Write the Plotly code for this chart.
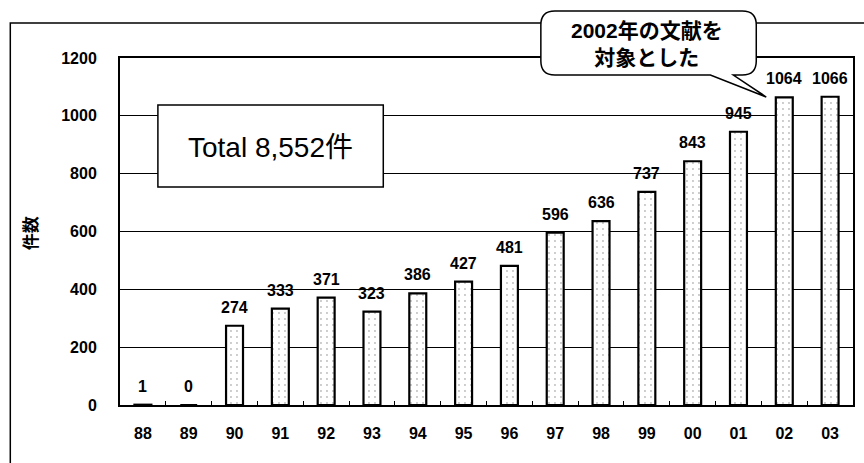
import plotly.graph_objects as go

years = ["88", "89", "90", "91", "92", "93", "94", "95", "96", "97", "98", "99", "00", "01", "02", "03"]
counts = [1, 0, 274, 333, 371, 323, 386, 427, 481, 596, 636, 737, 843, 945, 1064, 1066]
y_ticks = [0, 200, 400, 600, 800, 1000, 1200]
y_title = "件数"
total_text = "Total 8,552件"
callout_text = "2002年の文献を<br>対象とした"

W, H = 864, 463
L, R, T, B = 120, 9, 58, 58
PW, PH = W - L - R, H - T - B

def px(x):
    return (x - L) / PW

def py(y):
    return (H - B - y) / PH

FONT = "Liberation Sans, Arial, Noto Sans CJK JP, sans-serif"

idx = list(range(len(years)))

fig = go.Figure()
fig.add_trace(go.Bar(
    x=idx, y=counts, width=0.37,
    marker=dict(color="white", line=dict(color="black", width=2.2),
                pattern=dict(shape=".", fgcolor="#777", bgcolor="white", size=6, solidity=0.08)),
    hoverinfo="skip", showlegend=False,
))

annotations = []
for i, c in zip(idx, counts):
    annotations.append(dict(x=i, y=c, xref="x", yref="y", text=str(c), showarrow=False,
                            xanchor="center", yanchor="bottom", yshift=8,
                            font=dict(family=FONT, size=16, color="black", weight="bold")))

# y title
annotations.append(dict(x=px(31), y=py(233), xref="paper", yref="paper", text=y_title,
                        showarrow=False, textangle=-90, xanchor="center", yanchor="middle",
                        font=dict(family=FONT, size=17, color="black", weight="bold")))
# total box text
annotations.append(dict(x=px(271), y=py(147), xref="paper", yref="paper", text=total_text,
                        showarrow=False, xanchor="center", yanchor="middle",
                        font=dict(family=FONT, size=28, color="black")))
# callout text
annotations.append(dict(x=px(648), y=py(44), xref="paper", yref="paper", text=callout_text,
                        showarrow=False, align="center", xanchor="center", yanchor="middle",
                        font=dict(family=FONT, size=21, color="black", weight="bold")))

shapes = []
# outer frame
shapes.append(dict(type="rect", xref="paper", yref="paper",
                   x0=px(10), x1=px(875), y0=py(23), y1=py(480),
                   line=dict(color="black", width=1.5), fillcolor="rgba(0,0,0,0)", layer="below"))
# total box
shapes.append(dict(type="rect", xref="paper", yref="paper",
                   x0=px(158), x1=px(384), y0=py(105), y1=py(187),
                   line=dict(color="black", width=1.5), fillcolor="white", layer="above"))

# callout bubble path
bx0, bx1, by0, by1, r = 542, 758, 11, 75, 14
tail = [(712, by1), (768, 97), (735, by1)]
def P(x, y):
    return f"{px(x):.5f},{py(y):.5f}"
path = f"M {P(bx0 + r, by0)} L {P(bx1 - r, by0)} Q {P(bx1, by0)} {P(bx1, by0 + r)} "
path += f"L {P(bx1, by1 - r)} Q {P(bx1, by1)} {P(bx1 - r, by1)} "
path += f"L {P(*tail[2])} L {P(*tail[1])} L {P(*tail[0])} "
path += f"L {P(bx0 + r, by1)} Q {P(bx0, by1)} {P(bx0, by1 - r)} "
path += f"L {P(bx0, by0 + r)} Q {P(bx0, by0)} {P(bx0 + r, by0)} Z"
shapes.append(dict(type="path", xref="paper", yref="paper", path=path,
                   line=dict(color="black", width=1.5), fillcolor="white", layer="above"))

fig.update_layout(
    width=W, height=H,
    margin=dict(l=L, r=R, t=T, b=B),
    paper_bgcolor="white", plot_bgcolor="white",
    font=dict(family=FONT, color="black"),
    annotations=annotations, shapes=shapes,
)
fig.update_xaxes(range=[-0.5, len(years) - 0.5], tickmode="array", tickvals=idx, ticktext=years,
                 showline=True, linecolor="black", linewidth=2, mirror=True,
                 ticks="", showgrid=False, ticklabelstandoff=13, tickangle=0,
                 minor=dict(tickmode="array", tickvals=[i + 0.5 for i in idx[:-1]], ticks="inside",
                            ticklen=4, tickcolor="black", tickwidth=1, showgrid=False),
                 tickfont=dict(family=FONT, size=16, color="black", weight="bold"))
fig.update_yaxes(range=[0, 1200], tickvals=y_ticks, showline=True, linecolor="black", linewidth=2,
                 mirror=True, showgrid=True, gridcolor="black", gridwidth=1, zeroline=False,
                 ticks="", ticklabelstandoff=18,
                 tickfont=dict(family=FONT, size=16, color="black", weight="bold"))

fig.write_html("out.html")
